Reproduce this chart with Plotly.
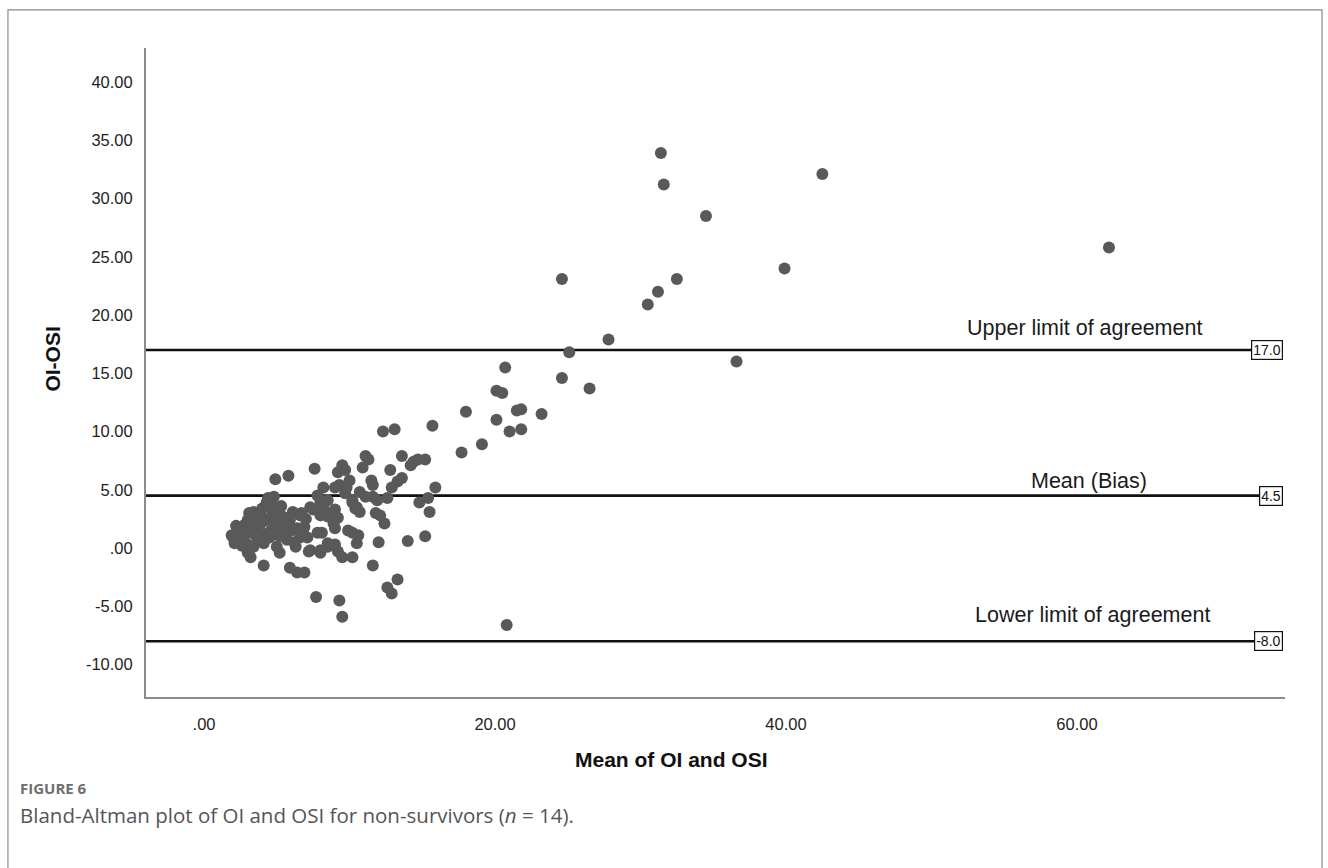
import plotly.graph_objects as go

# ---- data (mean of OI and OSI, OI-OSI difference) ----
mean_oi_osi = [
    62.2, 42.5, 39.9, 36.6, 34.5, 32.5, 31.6, 31.4, 31.2, 30.5,
    27.8, 26.5, 25.1, 24.6, 24.6, 23.2, 21.8, 21.5, 21.8, 21.0,
    20.8, 20.7, 20.5, 20.1, 20.1, 19.1, 18.0, 17.7, 15.9, 15.7,
    15.4, 15.5, 15.2, 15.2, 14.8, 14.7, 14.4, 14.2, 14.0, 13.1,
    12.3, 13.6, 11.1, 11.3, 10.9, 12.8, 9.5, 9.7, 9.2, 7.6,
    5.8, 4.9, 13.6, 13.3, 12.9, 12.6, 11.5, 11.6, 10.0, 9.8,
    9.3, 9.0, 8.2, 10.7, 11.1, 11.6, 11.9, 10.2, 10.5, 9.7,
    7.8, 8.0, 8.5, 8.2, 8.5, 8.5, 9.0, 9.2, 10.2, 10.4,
    10.7, 11.8, 12.1, 12.4, 8.9, 9.0, 9.9, 10.2, 10.6, 10.5,
    12.0, 8.1, 8.5, 9.0, 9.2, 9.5, 10.2, 8.0, 7.2, 11.6,
    13.3, 12.6, 12.9, 7.7, 9.3, 9.5, 6.9, 6.4, 5.9, 4.1,
    3.2, 3.0, 4.5, 3.4, 4.0, 3.0, 2.5, 2.0, 2.1, 2.7,
    3.2, 3.6, 4.3, 4.7, 5.0, 4.5, 3.8, 3.4, 5.4, 5.9,
    6.0, 5.7, 5.0, 5.2, 6.3, 6.6, 6.9, 6.6, 7.3, 8.0,
    7.3, 8.0, 8.5, 7.8, 4.3, 5.1, 2.4, 1.9, 4.7, 7.5,
    2.3, 2.8, 3.5, 3.9, 4.2, 3.0, 3.7, 4.9, 5.5, 6.2,
    6.8, 7.0, 5.3, 6.1, 2.2, 3.3, 4.6, 3.1, 4.4, 4.8,
    2.6, 3.6, 4.1, 5.6, 6.4, 7.1, 2.9, 3.9, 5.2, 6.7,
]
diff_oi_osi = [
    25.8, 32.1, 24.0, 16.0, 28.5, 23.1, 31.2, 33.9, 22.0, 20.9,
    17.9, 13.7, 16.8, 23.1, 14.6, 11.5, 11.9, 11.8, 10.2, 10.0,
    -6.6, 15.5, 13.3, 13.5, 11.0, 8.9, 11.7, 8.2, 5.2, 10.5,
    4.3, 3.1, 7.6, 1.0, 3.9, 7.6, 7.4, 7.1, 0.6, 10.2,
    10.0, 7.9, 7.9, 7.6, 6.9, 6.7, 7.1, 6.7, 6.5, 6.8,
    6.2, 5.9, 6.0, 5.7, 5.2, 4.3, 5.8, 5.4, 5.8, 5.2,
    5.4, 5.2, 5.2, 4.8, 4.4, 4.4, 4.1, 4.1, 3.5, 4.7,
    4.5, 4.0, 4.1, 3.5, 3.0, 2.7, 3.3, 2.6, 3.9, 3.4,
    3.1, 3.0, 2.8, 2.1, 2.1, 1.7, 1.5, 1.3, 1.1, 0.4,
    0.5, 1.3, 0.1, 0.3, -0.3, -0.8, -0.8, -0.4, -0.3, -1.5,
    -2.7, -3.4, -3.9, -4.2, -4.5, -5.9, -2.1, -2.1, -1.7, -1.5,
    -0.8, -0.4, 3.9, 3.1, 3.4, 2.4, 1.7, 0.9, 0.4, 0.7,
    1.3, 1.8, 2.4, 3.0, 1.8, 0.9, 0.7, 0.1, 2.7, 2.4,
    1.5, 0.7, 0.1, -0.4, 0.1, 2.8, 1.8, 0.9, 3.5, 2.8,
    -0.2, -0.2, 0.4, 1.3, 3.9, 3.3, 1.2, 1.1, 3.7, 3.3,
    1.3, 2.0, 2.6, 2.1, 1.2, 0.3, 3.0, 2.3, 1.2, 0.5,
    1.4, 2.5, 3.6, 3.1, 1.9, 1.9, 1.5, 3.0, 4.3, 4.4,
    0.2, 1.0, 0.4, 2.0, 1.7, 0.9, 1.6, 2.8, 1.0, 3.0,
]

ref_values = [17.0, 4.5, -8.0]
ref_box_text = ["17.0", "4.5", "-8.0"]
ref_names = ["Upper limit of agreement", "Mean (Bias)", "Lower limit of agreement"]

x_tickvals = [0, 20, 40, 60]
x_ticktext = [".00", "20.00", "40.00", "60.00"]
y_tickvals = [-10, -5, 0, 5, 10, 15, 20, 25, 30, 35, 40]
y_ticktext = ["-10.00", "-5.00", ".00", "5.00", "10.00", "15.00", "20.00",
              "25.00", "30.00", "35.00", "40.00"]

X_RANGE = [-3.99, 74.3]
Y_RANGE = [-12.79, 42.92]
LINE_END = 73.5
BOX_X = 74.15

fig = go.Figure()

for v in ref_values:
    fig.add_trace(go.Scatter(
        x=[X_RANGE[0], LINE_END], y=[v, v], mode="lines",
        line=dict(color="#111111", width=2.6), hoverinfo="skip", showlegend=False,
        cliponaxis=False,
    ))

fig.add_trace(go.Scatter(
    x=mean_oi_osi, y=diff_oi_osi, mode="markers",
    marker=dict(size=12, color="#595959", line=dict(width=0)),
    showlegend=False,
))

annotations = []
label_pos = [(60.5, 18.9), (60.8, 5.75), (61.1, -5.75)]
for (lx, ly), name in zip(label_pos, ref_names):
    annotations.append(dict(
        x=lx, y=ly, xref="x", yref="y", text=name, showarrow=False,
        font=dict(family="Liberation Sans, Arial", size=21.5, color="#1a1a1a"),
        xanchor="center", yanchor="middle",
    ))
for v, t in zip(ref_values, ref_box_text):
    annotations.append(dict(
        x=BOX_X, y=v, xref="x", yref="y", text=t, showarrow=False,
        font=dict(family="Liberation Sans, Arial", size=14, color="#111111"),
        xanchor="right", yanchor="middle", bgcolor="white",
        bordercolor="#111111", borderwidth=1.2, borderpad=1,
    ))

annotations.append(dict(
    x=-0.0825, y=0.52, xref="paper", yref="paper", text="<b>OI-OSI</b>",
    textangle=-90, showarrow=False,
    font=dict(family="Liberation Sans, Arial", size=21, color="#111111"),
    xanchor="center", yanchor="middle",
))
annotations.append(dict(
    x=0.4618, y=-0.097, xref="paper", yref="paper", text="<b>Mean of OI and OSI</b>",
    showarrow=False,
    font=dict(family="Liberation Sans, Arial", size=21, color="#111111"),
    xanchor="center", yanchor="middle",
))
annotations.append(dict(
    x=-0.1124, y=-0.140, xref="paper", yref="paper", text="<b>FIGURE 6</b>",
    showarrow=False, font=dict(family="Open Sans", size=15, color="#6e6e6e"),
    xanchor="left", yanchor="middle",
))
annotations.append(dict(
    x=-0.1124, y=-0.1818, xref="paper", yref="paper",
    text="Bland-Altman plot of OI and OSI for non-survivors (<i>n</i> = 14).",
    showarrow=False, font=dict(family="Open Sans", size=20.5, color="#555555"),
    xanchor="left", yanchor="middle",
))

shapes = [dict(
    type="rect", xref="paper", yref="paper",
    x0=-0.1212, x1=1.0325, y0=-0.30, y1=1.0586,
    line=dict(color="#8a8a8a", width=1.2), fillcolor="rgba(0,0,0,0)", layer="below",
)]

fig.update_layout(
    width=1328, height=868,
    margin=dict(l=146, r=43, t=48, b=171, pad=0),
    paper_bgcolor="white", plot_bgcolor="white",
    showlegend=False,
    annotations=annotations, shapes=shapes,
    xaxis=dict(
        range=X_RANGE, tickvals=x_tickvals, ticktext=x_ticktext,
        showgrid=False, zeroline=False, showline=True, linecolor="#8c8c8c", linewidth=2,
        ticks="", ticklabelstandoff=11,
        tickfont=dict(family="Liberation Sans, Arial", size=16.5, color="#1e1e1e"),
    ),
    yaxis=dict(
        range=Y_RANGE, tickvals=y_tickvals, ticktext=y_ticktext,
        showgrid=False, zeroline=False, showline=True, linecolor="#8c8c8c", linewidth=2,
        ticks="", ticklabelstandoff=8,
        tickfont=dict(family="Liberation Sans, Arial", size=16.5, color="#1e1e1e"),
    ),
)

fig.write_html(
    "out.html",
    config={"displayModeBar": False},
    post_script="document.body.style.margin='0';document.body.style.overflow='hidden';",
)
